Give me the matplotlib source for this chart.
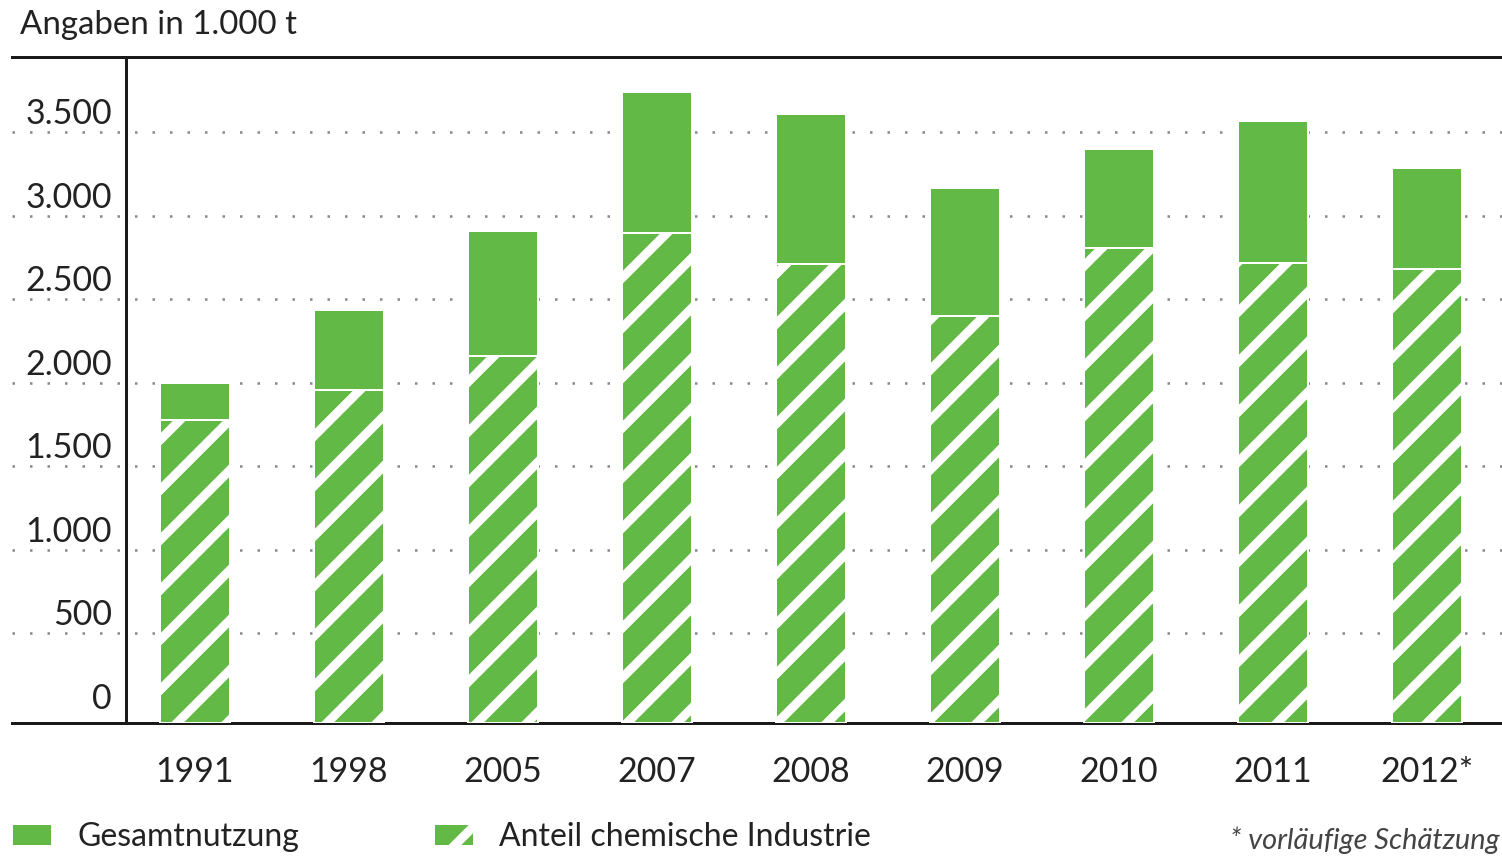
import matplotlib
matplotlib.use("Agg")
import matplotlib.pyplot as plt
import matplotlib.transforms as mtransforms
import numpy as np

# Data (1.000 t)
years = ['1991', '1998', '2005', '2007', '2008', '2009', '2010', '2011', '2012*']
gesamt = [2000, 2440, 2910, 3740, 3610, 3170, 3400, 3570, 3290]
chemie = [1780, 1960, 2160, 2900, 2710, 2400, 2810, 2720, 2680]
yticks = [0, 500, 1000, 1500, 2000, 2500, 3000, 3500]
ytick_labels = ['0', '500', '1.000', '1.500', '2.000', '2.500', '3.000', '3.500']

# high dpi / small inches so the hatch tile gets wide stripes
DPI = 300
W_PX, H_PX = 1502, 856


def pt(px):
    """pixels -> points at DPI"""
    return px * 72.0 / DPI


GREEN = '#63b946'
TEXT = '#222222'
FONT = ['Lato', 'DejaVu Sans']

plt.rcParams['font.family'] = FONT
plt.rcParams['hatch.linewidth'] = pt(9)

fig = plt.figure(figsize=(W_PX / DPI, H_PX / DPI), dpi=DPI)
ax = fig.add_axes([12 / W_PX, 133 / H_PX, 1490 / W_PX, 666 / H_PX])

x = np.arange(len(years))
y_min, y_max = -36, 3952
gesamt = np.array(gesamt)
chemie = np.array(chemie)

# hatched share of the chemical industry
bars_chem = ax.bar(x, chemie - y_min, bottom=y_min, width=0.46, color=GREEN,
                   edgecolor='white', linewidth=pt(2), hatch='//', zorder=3,
                   label='Anteil chemische Industrie')
# rest of total use on top
bars_total = ax.bar(x, gesamt - chemie, bottom=chemie, width=0.46, color=GREEN,
                    edgecolor='white', linewidth=pt(2), zorder=3,
                    label='Gesamtnutzung')

ax.set_xlim(-1.188, 8.487)
ax.set_ylim(y_min, y_max)

# spines
for side in ['top', 'bottom', 'left']:
    ax.spines[side].set_color('#1a1a1a')
    ax.spines[side].set_linewidth(pt(3))
ax.spines['right'].set_visible(False)
ax.spines['left'].set_position(('axes', 114 / 1490))

# dotted gridlines
ax.yaxis.grid(True, color='#888888', linestyle=(0, (1, 6)), linewidth=pt(2.5))
ax.set_axisbelow(True)

# y tick labels sit above the gridlines
ax.set_yticks(yticks)
ax.set_yticklabels(ytick_labels)
ax.tick_params(axis='y', length=0, pad=pt(14), labelsize=pt(34), labelcolor=TEXT)
offset = mtransforms.ScaledTranslation(0, 21 / DPI, fig.dpi_scale_trans)
for lbl in ax.get_yticklabels():
    lbl.set_transform(lbl.get_transform() + offset)
# no dotted line at 0 (axis line there)
ax.get_ygridlines()[0].set_visible(False)

ax.set_xticks(x)
ax.set_xticklabels(years)
ax.tick_params(axis='x', length=0, pad=pt(33), labelsize=pt(34), labelcolor=TEXT)

# header
fig.text(20 / W_PX, 1 - 25 / H_PX, 'Angaben in 1.000 t', fontsize=pt(33),
         color=TEXT, va='center', ha='left')

# legend
fig.legend(handles=[bars_total, bars_chem], loc='center left',
           bbox_to_anchor=(12 / W_PX, 1 - 837 / H_PX), ncol=2, frameon=False,
           fontsize=pt(32), handlelength=1.25, handleheight=0.7,
           handletextpad=0.8, columnspacing=4.2, borderpad=0, borderaxespad=0,
           labelcolor=TEXT)

# footnote
fig.text(1500 / W_PX, 1 - 840 / H_PX, '* vorläufige Schätzung', fontsize=pt(29),
         color='#444444', style='italic', va='center', ha='right')

fig.savefig('out.png', dpi=DPI)
